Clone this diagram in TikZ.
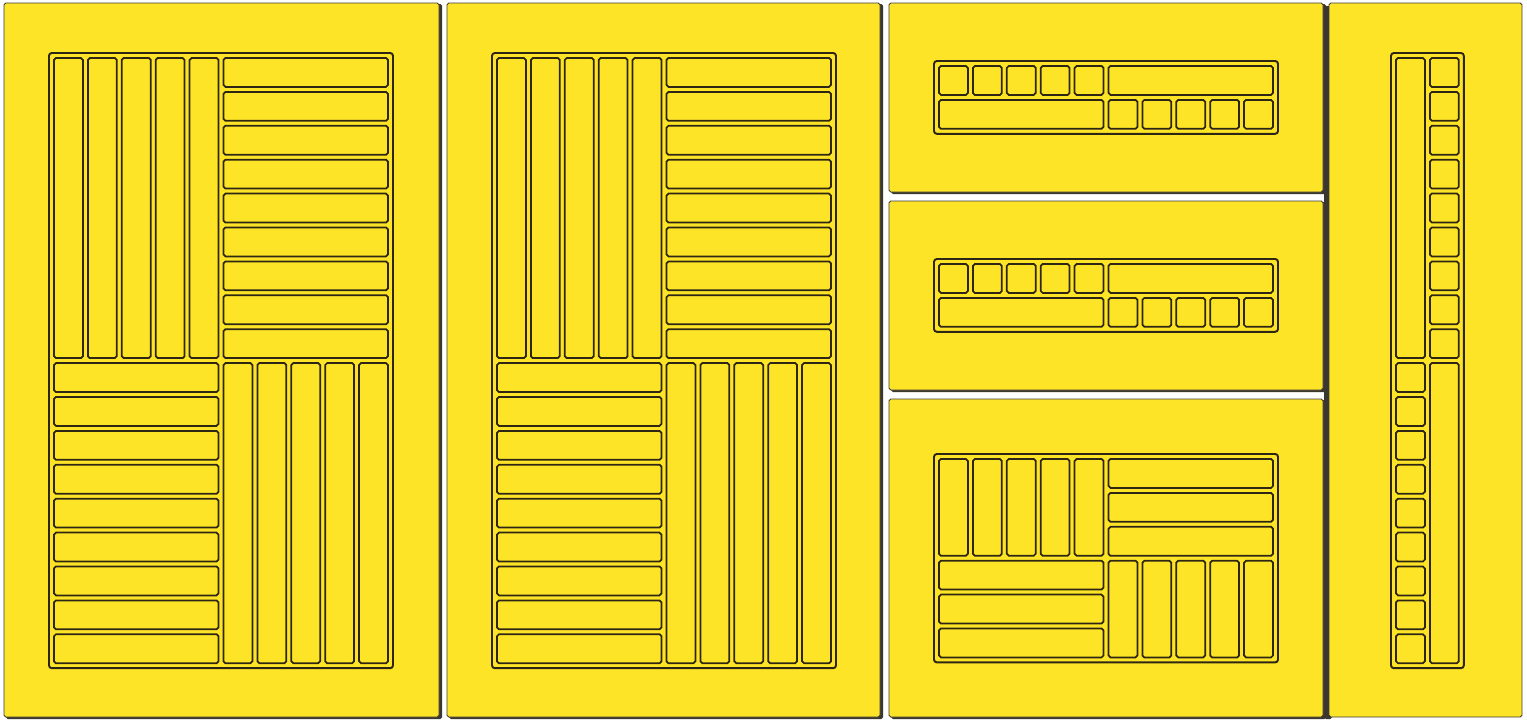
\documentclass[tikz,border=0pt]{standalone}
\usepackage{tikz}
\usepackage{xcolor}
\definecolor{slabfill} {RGB}{254,228, 38}
\definecolor{panedge}  {RGB}{ 60, 60, 60}
\definecolor{shadeedge}{RGB}{ 58, 54, 48}
\definecolor{slotedge} {RGB}{ 46, 38, 20}

% grid pitch of the slots (px) and one slot of a tray
\def\gp{33.9}
\newcommand{\slotbox}[4]{%
  \draw[cell] ({#1*\gp+5},{#2*\gp+5}) rectangle ({(#1+#3)*\gp},{(#2+#4)*\gp});}

\begin{document}
\begin{tikzpicture}[
  x=0.02cm, y=-0.02cm,
  panel/.style={draw=panedge, line width=0.5pt, fill=slabfill, rounded corners=1pt},
  shade/.style={fill=shadeedge, rounded corners=1pt},
  frame/.style={draw=slotedge, line width=1.1pt, rounded corners=1.6pt},
  cell/.style={draw=slotedge, line width=1pt, rounded corners=1.1pt}
]
\useasboundingbox (0,0) rectangle (1527,720);

% =========================================================
% SLABS -- shadow first, then the yellow face
% =========================================================
\foreach \xa/\ya/\xb/\yb in {4/3/439/717, 447/3/880/717,
                             889/3/1323/192, 889/201/1323/390, 889/399/1323/717} {
  \fill[shade] (\xa+2,\ya+1) rectangle (\xb+3,\yb+2);
  \draw[panel] (\xa,\ya) rectangle (\xb,\yb);
}
% right slab casts its shadow to the left
\fill[shade] (1324,6) rectangle (1332,719);
\draw[panel] (1329,3) rectangle (1522,717);

% =========================================================
% LEFT TWO SLABS -- parquet of 10 x 18 slots
% =========================================================
\foreach \ox in {49,492} {
  \begin{scope}[shift={(\ox,53)}]
    \draw[frame] (0,0) rectangle ({10*\gp+5},{18*\gp+5});
    \foreach \c in {0,...,4} \slotbox{\c}{0}{1}{9};
    \foreach \r in {0,...,8} \slotbox{5}{\r}{5}{1};
    \foreach \r in {9,...,17} \slotbox{0}{\r}{5}{1};
    \foreach \c in {5,...,9} \slotbox{\c}{9}{1}{9};
  \end{scope}
}

% =========================================================
% MIDDLE STACK -- two strips and one small parquet
% =========================================================
\foreach \oy in {61,259} {
  \begin{scope}[shift={(934,\oy)}]
    \draw[frame] (0,0) rectangle ({10*\gp+5},{2*\gp+5});
    \foreach \c in {0,...,4} \slotbox{\c}{0}{1}{1};
    \slotbox{5}{0}{5}{1};
    \slotbox{0}{1}{5}{1};
    \foreach \c in {5,...,9} \slotbox{\c}{1}{1}{1};
  \end{scope}
}

\begin{scope}[shift={(934,454)}]
  \draw[frame] (0,0) rectangle ({10*\gp+5},{6*\gp+5});
  \foreach \c in {0,...,4} \slotbox{\c}{0}{1}{3};
  \foreach \r in {0,1,2} \slotbox{5}{\r}{5}{1};
  \foreach \r in {3,4,5} \slotbox{0}{\r}{5}{1};
  \foreach \c in {5,...,9} \slotbox{\c}{3}{1}{3};
\end{scope}

% =========================================================
% RIGHT SLAB -- narrow column of 2 x 18 slots
% =========================================================
\begin{scope}[shift={(1391,53)}]
  \draw[frame] (0,0) rectangle ({2*\gp+5},{18*\gp+5});
  \slotbox{0}{0}{1}{9};
  \foreach \r in {0,...,8} \slotbox{1}{\r}{1}{1};
  \foreach \r in {9,...,17} \slotbox{0}{\r}{1}{1};
  \slotbox{1}{9}{1}{9};
\end{scope}

\end{tikzpicture}
\end{document}
